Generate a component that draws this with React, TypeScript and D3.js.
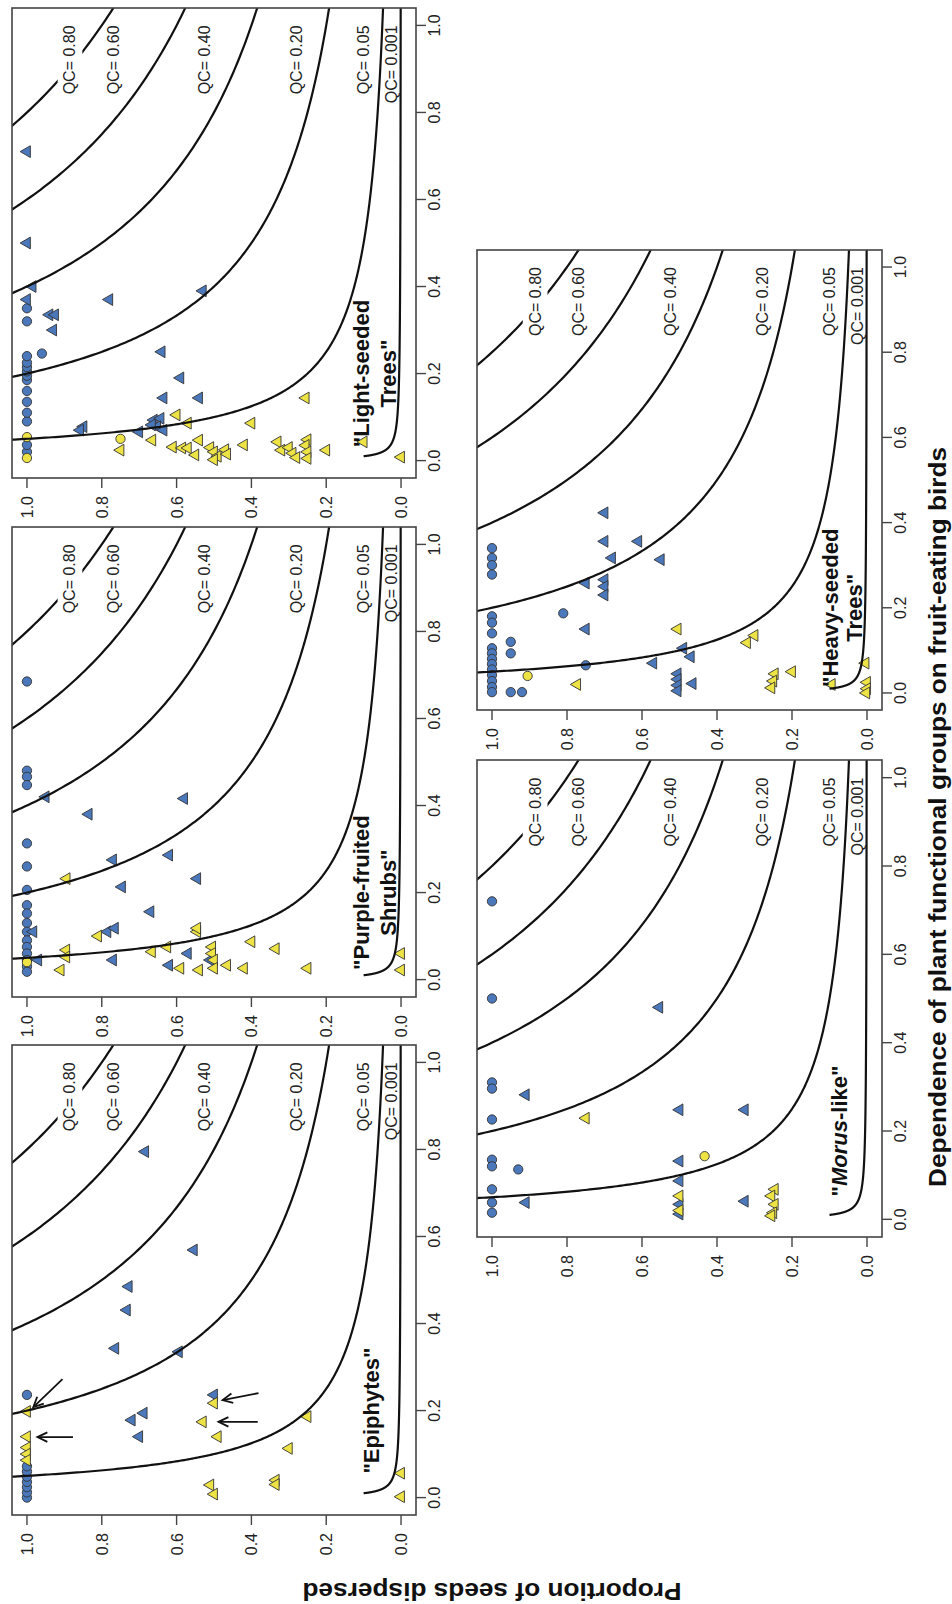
import React from "react";
import * as d3 from "d3";

// Five panels of seed-dispersal "effectiveness landscape", drawn upright then turned 90° CCW
// to match the scanned page.

type Pt = [number, number]; // [dependence on birds, proportion of seeds dispersed]

const PAGE_W = 952;
const PAGE_H = 1604;
const FONT = "'Liberation Sans', Arial, Helvetica, sans-serif";

const QC_LEVELS = [0.8, 0.6, 0.4, 0.2, 0.05, 0.001];
const QC_NAMES = ["QC= 0.80", "QC= 0.60", "QC= 0.40", "QC= 0.20", "QC= 0.05", "QC= 0.001"];
const QC_LABEL_P = [0.885, 0.77, 0.525, 0.28, 0.1, 0.025];
const TICKS = [0, 0.2, 0.4, 0.6, 0.8, 1];

// "Epiphytes"
const epiBlueCircles: Pt[] = [[0, 1], [0.012, 1], [0.024, 1], [0.036, 1], [0.048, 1], [0.06, 1], [0.072, 1], [0.236, 1]];
const epiBlueTriangles: Pt[] = [
  [0.795, 0.684], [0.569, 0.554], [0.485, 0.728], [0.431, 0.733], [0.343, 0.764],
  [0.335, 0.594], [0.194, 0.688], [0.178, 0.72], [0.14, 0.7], [0.236, 0.5],
];
const epiYellowCircles: Pt[] = [];
const epiYellowTriangles: Pt[] = [
  [0.198, 1], [0.14, 1], [0.115, 1], [0.1, 1], [0.086, 1], [0.217, 0.5], [0.174, 0.53],
  [0.14, 0.49], [0.186, 0.25], [0.113, 0.3], [0.04, 0.335], [0.03, 0.335], [0.029, 0.51],
  [0.008, 0.5], [0.056, 0], [0.002, 0],
];
// arrows: [dTail, pTail, dHead, pHead]
const epiArrows: [number, number, number, number][] = [
  [0.272, 0.905, 0.208, 0.983],
  [0.139, 0.877, 0.139, 0.972],
  [0.24, 0.381, 0.224, 0.477],
  [0.174, 0.383, 0.174, 0.488],
];

// "Purple-fruited Shrubs"
const purpleBlueCircles: Pt[] = [
  [0.685, 1], [0.48, 1], [0.466, 1], [0.447, 1], [0.313, 1], [0.26, 1], [0.206, 1], [0.171, 1],
  [0.152, 1], [0.13, 1], [0.11, 1], [0.09, 1], [0.075, 1], [0.06, 1], [0.045, 1], [0.03, 1], [0.018, 1],
];
const purpleBlueTriangles: Pt[] = [
  [0.42, 0.95], [0.38, 0.835], [0.275, 0.77], [0.286, 0.62], [0.416, 0.58], [0.213, 0.746],
  [0.232, 0.545], [0.156, 0.67], [0.11, 0.785], [0.118, 0.765], [0.045, 0.77], [0.033, 0.62],
  [0.06, 0.57], [0.045, 0.51], [0.11, 0.983], [0.045, 0.97],
];
const purpleYellowCircles: Pt[] = [[0.04, 1]];
const purpleYellowTriangles: Pt[] = [
  [0.232, 0.894], [0.1, 0.81], [0.068, 0.895], [0.052, 0.895], [0.022, 0.91], [0.064, 0.666],
  [0.075, 0.625], [0.026, 0.59], [0.11, 0.545], [0.118, 0.545], [0.075, 0.505], [0.06, 0.505],
  [0.045, 0.5], [0.026, 0.5], [0.022, 0.54], [0.033, 0.465], [0.026, 0.42], [0.087, 0.4],
  [0.071, 0.335], [0.026, 0.25], [0.06, 0], [0.022, 0],
];

// "Light-seeded Trees"
const lightBlueCircles: Pt[] = [
  [0.02, 1], [0.036, 1], [0.09, 1], [0.11, 1], [0.135, 1], [0.16, 1], [0.185, 1], [0.195, 1],
  [0.205, 1], [0.215, 1], [0.225, 1], [0.24, 1], [0.32, 1], [0.35, 1], [0.246, 0.96],
];
const lightBlueTriangles: Pt[] = [
  [0.71, 1], [0.5, 1], [0.4, 0.985], [0.37, 1], [0.335, 0.94], [0.335, 0.925], [0.3, 0.93],
  [0.37, 0.78], [0.39, 0.53], [0.25, 0.64], [0.19, 0.59], [0.144, 0.635], [0.144, 0.54],
  [0.078, 0.849], [0.07, 0.858], [0.066, 0.7], [0.093, 0.661], [0.097, 0.643], [0.078, 0.652],
  [0.07, 0.635], [0.082, 0.666],
];
const lightYellowCircles: Pt[] = [[0.054, 1], [0.006, 1], [0.05, 0.75]];
const lightYellowTriangles: Pt[] = [
  [0.105, 0.6], [0.086, 0.57], [0.047, 0.665], [0.024, 0.75], [0.031, 0.61], [0.029, 0.585],
  [0.029, 0.57], [0.047, 0.54], [0.013, 0.55], [0.03, 0.51], [0.02, 0.5], [0.01, 0.49],
  [0.002, 0.5], [0.025, 0.47], [0.015, 0.465], [0.036, 0.42], [0.086, 0.4], [0.043, 0.33],
  [0.024, 0.32], [0.03, 0.3], [0.017, 0.29], [0.007, 0.28], [0.144, 0.255], [0.048, 0.25],
  [0.035, 0.255], [0.02, 0.25], [0.005, 0.25], [0.024, 0.2], [0.043, 0.1], [0.008, 0],
];

// "Morus-like"
const morusBlueCircles: Pt[] = [
  [0.72, 1], [0.5, 1], [0.31, 1], [0.296, 1], [0.226, 1], [0.135, 1], [0.12, 1], [0.068, 1],
  [0.038, 1], [0.015, 1], [0.113, 0.93],
];
const morusBlueTriangles: Pt[] = [
  [0.48, 0.554], [0.282, 0.91], [0.038, 0.91], [0.248, 0.5], [0.132, 0.5], [0.087, 0.5],
  [0.034, 0.5], [0.012, 0.5], [0.248, 0.326], [0.041, 0.326],
];
const morusYellowCircles: Pt[] = [[0.143, 0.433]];
const morusYellowTriangles: Pt[] = [
  [0.229, 0.75], [0.053, 0.5], [0.02, 0.5], [0.068, 0.246], [0.053, 0.255], [0.034, 0.246],
  [0.015, 0.25], [0.008, 0.255],
];

// "Heavy-seeded Trees"
const heavyBlueCircles: Pt[] = [
  [0.34, 1], [0.317, 1], [0.3, 1], [0.278, 1], [0.18, 1], [0.165, 1], [0.14, 1], [0.105, 1],
  [0.093, 1], [0.08, 1], [0.068, 1], [0.055, 1], [0.042, 1], [0.028, 1], [0.014, 1], [0.002, 1],
  [0.187, 0.81], [0.12, 0.95], [0.093, 0.95], [0.002, 0.95], [0.002, 0.92], [0.065, 0.75],
];
const heavyBlueTriangles: Pt[] = [
  [0.423, 0.7], [0.356, 0.7], [0.356, 0.61], [0.317, 0.68], [0.313, 0.55], [0.258, 0.75],
  [0.266, 0.7], [0.25, 0.7], [0.23, 0.7], [0.15, 0.75], [0.105, 0.49], [0.085, 0.47],
  [0.07, 0.57], [0.045, 0.505], [0.032, 0.505], [0.018, 0.505], [0.005, 0.505], [0.022, 0.465],
];
const heavyYellowCircles: Pt[] = [[0.04, 0.905]];
const heavyYellowTriangles: Pt[] = [
  [0.15, 0.505], [0.135, 0.3], [0.118, 0.32], [0.05, 0.2], [0.045, 0.246], [0.028, 0.25],
  [0.012, 0.255], [0.02, 0.773], [0.02, 0.094], [0.07, 0.004], [0.025, 0], [0.01, 0], [0, 0.002],
];

type Seg = { t: string; it?: boolean };
type PanelCfg = {
  key: string;
  x0: number; x1: number; y0: number; y1: number;
  blueC: Pt[]; blueT: Pt[]; yelC: Pt[]; yelT: Pt[];
  title: Seg[][]; titleP: number[];
  arrows?: [number, number, number, number][];
};

// box positions in the upright figure (1604 wide x 952 tall)
const PANELS: PanelCfg[] = [
  { key: "epi", x0: 89, x1: 559, y0: 12, y1: 416, blueC: epiBlueCircles, blueT: epiBlueTriangles,
    yelC: epiYellowCircles, yelT: epiYellowTriangles, title: [[{ t: '"Epiphytes"' }]], titleP: [0.08], arrows: epiArrows },
  { key: "purple", x0: 607, x1: 1077, y0: 12, y1: 416, blueC: purpleBlueCircles, blueT: purpleBlueTriangles,
    yelC: purpleYellowCircles, yelT: purpleYellowTriangles,
    title: [[{ t: '"Purple-fruited' }], [{ t: 'Shrubs"' }]], titleP: [0.107, 0.035] },
  { key: "light", x0: 1126, x1: 1596, y0: 12, y1: 416, blueC: lightBlueCircles, blueT: lightBlueTriangles,
    yelC: lightYellowCircles, yelT: lightYellowTriangles,
    title: [[{ t: '"Light-seeded' }], [{ t: 'Trees"' }]], titleP: [0.107, 0.035] },
  { key: "morus", x0: 367, x1: 844, y0: 477, y1: 882, blueC: morusBlueCircles, blueT: morusBlueTriangles,
    yelC: morusYellowCircles, yelT: morusYellowTriangles,
    title: [[{ t: '"' }, { t: "Morus", it: true }, { t: '-like"' }]], titleP: [0.075] },
  { key: "heavy", x0: 894, x1: 1354, y0: 477, y1: 882, blueC: heavyBlueCircles, blueT: heavyBlueTriangles,
    yelC: heavyYellowCircles, yelT: heavyYellowTriangles,
    title: [[{ t: '"Heavy-seeded' }], [{ t: 'Trees"' }]], titleP: [0.1, 0.035] },
];

const BLUE = "#4a78bb";
const YELLOW = "#eee345";
const EDGE = "#333";

const triPath = d3.symbol().type(d3.symbolTriangle).size(60)() as string;
const circPath = d3.symbol().type(d3.symbolCircle).size(68)() as string;
const fmt = d3.format(".1f");

function Panel({ cfg }: { cfg: PanelCfg }) {
  const x = d3.scaleLinear().domain([-0.04, 1.04]).range([cfg.x0, cfg.x1]);
  const y = d3.scaleLinear().domain([-0.04, 1.04]).range([cfg.y1, cfg.y0]);
  const clipId = `clip-${cfg.key}`;
  const dSteps = d3.range(0, 1.0001, 0.002).map((t) => 0.01 * Math.pow(1.06 / 0.01, t));
  const curve = (qc: number) =>
    d3
      .line<number>()
      .defined((d) => qc / d < 2)
      .x((d) => x(d))
      .y((d) => y(qc / d))(dSteps) as string;

  const marks = (pts: Pt[], shape: string, fill: string, k: string) =>
    pts.map((d, i) => (
      <path key={`${k}${i}`} d={shape} transform={`translate(${x(d[0])},${y(d[1])})`}
        fill={fill} stroke={EDGE} strokeWidth={0.9} />
    ));

  const arrowEls = (cfg.arrows || []).map((a, i) => {
    const tx = x(a[0]), ty = y(a[1]), hx = x(a[2]), hy = y(a[3]);
    const ang = Math.atan2(hy - ty, hx - tx);
    const len = 11, spread = 0.45;
    const l1 = [hx - len * Math.cos(ang - spread), hy - len * Math.sin(ang - spread)];
    const l2 = [hx - len * Math.cos(ang + spread), hy - len * Math.sin(ang + spread)];
    return (
      <g key={`ar${i}`} stroke="#111" strokeWidth={1.8} fill="none">
        <line x1={tx} y1={ty} x2={hx} y2={hy} />
        <polyline points={`${l1[0]},${l1[1]} ${hx},${hy} ${l2[0]},${l2[1]}`} />
      </g>
    );
  });

  return (
    <g>
      <defs>
        <clipPath id={clipId}>
          <rect x={cfg.x0} y={cfg.y0} width={cfg.x1 - cfg.x0} height={cfg.y1 - cfg.y0} />
        </clipPath>
      </defs>
      {marks(cfg.blueC, circPath, BLUE, "bc")}
      {marks(cfg.blueT, triPath, BLUE, "bt")}
      {marks(cfg.yelC, circPath, YELLOW, "yc")}
      {marks(cfg.yelT, triPath, YELLOW, "yt")}
      <g clipPath={`url(#${clipId})`}>
        {QC_LEVELS.map((qc) => (
          <path key={qc} d={curve(qc)} fill="none" stroke="#111" strokeWidth={2.2} />
        ))}
      </g>
      {/* gap in the 0.80 curve behind its label */}
      <rect x={x(0.82)} y={y(0.918)} width={x(1.01) - x(0.82)} height={y(0.852) - y(0.918)} fill="#fff" />
      {QC_NAMES.map((t, i) => (
        <text key={t} x={x(1.0)} y={y(QC_LABEL_P[i]) + 5.5} textAnchor="end" fontSize={16} fill="#222">
          {t}
        </text>
      ))}
      {arrowEls}
      <rect x={cfg.x0} y={cfg.y0} width={cfg.x1 - cfg.x0} height={cfg.y1 - cfg.y0}
        fill="none" stroke="#444" strokeWidth={1.6} />
      {TICKS.map((t) => (
        <g key={`xt${t}`}>
          <line x1={x(t)} x2={x(t)} y1={cfg.y1} y2={cfg.y1 + 10} stroke="#444" strokeWidth={1.4} />
          <text x={x(t)} y={cfg.y1 + 24} textAnchor="middle" fontSize={16} fill="#222">{fmt(t)}</text>
        </g>
      ))}
      {TICKS.map((t) => (
        <g key={`yt${t}`}>
          <line x1={cfg.x0} x2={cfg.x0 - 10} y1={y(t)} y2={y(t)} stroke="#444" strokeWidth={1.4} />
          <text x={cfg.x0 - 18} y={y(t) + 6} textAnchor="end" fontSize={16} fill="#222">{fmt(t)}</text>
        </g>
      ))}
      {cfg.title.map((line, i) => (
        <text key={`ti${i}`} x={x(0.2)} y={y(cfg.titleP[i]) + 8} textAnchor="middle"
          fontSize={22} fontWeight="bold" fill="#111">
          {line.map((s, j) => (
            <tspan key={j} fontStyle={s.it ? "italic" : "normal"}>{s.t}</tspan>
          ))}
        </text>
      ))}
    </g>
  );
}

export default function App() {
  return (
    <svg width={PAGE_W} height={PAGE_H} style={{ position: "absolute", left: 0, top: 0, background: "#fff" }}
      fontFamily={FONT}>
      <g transform={`translate(0,${PAGE_H}) rotate(-90)`}>
        {PANELS.map((p) => (
          <Panel key={p.key} cfg={p} />
        ))}
        <text transform="translate(21,492) rotate(-90)" textAnchor="middle" fontSize={24} fontWeight="bold"
          textLength={379} lengthAdjust="spacingAndGlyphs" fill="#111">
          Proportion of seeds dispersed
        </text>
        <text x={787} y={946} textAnchor="middle" fontSize={24} fontWeight="bold"
          textLength={740} lengthAdjust="spacingAndGlyphs" fill="#111">
          Dependence of plant functional groups on fruit-eating birds
        </text>
      </g>
    </svg>
  );
}
